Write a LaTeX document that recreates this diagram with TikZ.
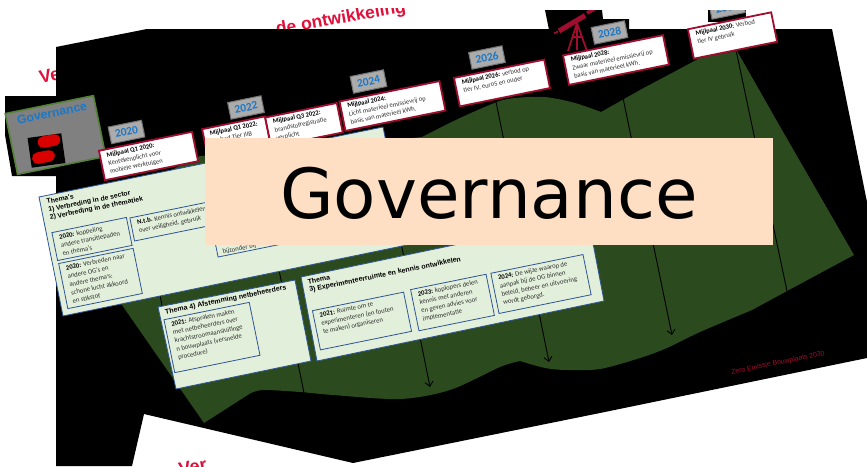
\documentclass[tikz,border=0pt]{standalone}
\usepackage{fontspec}
\setmainfont{Carlito}
\newfontfamily\arialf{Liberation Sans}
\newfontfamily\dejavuf{DejaVu Sans}
\usetikzlibrary{arrows.meta}
\pgfdeclarelayer{bg}
\pgfdeclarelayer{lines}
\pgfsetlayers{bg,lines,main}
\definecolor{leaf}{HTML}{2B4A1E}
\definecolor{panel}{HTML}{E2EFDA}
\definecolor{edgeblue}{HTML}{2F5597}
\definecolor{mred}{HTML}{A00D2E}
\definecolor{hotred}{HTML}{E0103A}
\definecolor{yearblue}{HTML}{1B78C8}
\definecolor{peach}{HTML}{FFDFC4}
\definecolor{bodyt}{HTML}{303030}
\definecolor{tileedge}{HTML}{548235}
\tikzset{
  ang/.style={rotate=11.5},
  milestone/.style={ang,draw=mred,line width=1.8pt,fill=white,inner sep=0pt},
  mtext/.style={ang,anchor=north west,inner xsep=7.5pt,inner ysep=4pt,align=left,text=bodyt,font=\fontsize{6.6}{8.3}\selectfont},
  yearbox/.style={ang,draw=black!55,line width=1pt,fill=black!33,minimum width=34pt,minimum height=17pt,inner sep=0pt,text=yearblue,font=\fontsize{11.5}{12}\selectfont\bfseries},
  thema/.style={draw=edgeblue,line width=.8pt,fill=panel},
  bluebx/.style={ang,draw=edgeblue,line width=.8pt,fill=panel,inner sep=0pt},
  btext/.style={ang,anchor=north west,inner xsep=6.5pt,inner ysep=3.5pt,align=left,text=bodyt,font=\fontsize{6.7}{8.5}\selectfont},
  ttitle/.style={ang,anchor=north west,inner sep=0pt,align=left,font=\arialf\bfseries\fontsize{6.8}{8}\selectfont},
  red title/.style={ang,anchor=base west,inner sep=0pt,text=hotred,font=\arialf\bfseries\fontsize{18}{20}\selectfont},
  conn/.style={draw=black,line width=.9pt},
  connarrow/.style={conn,-{Straight Barb[length=4.5pt,width=8pt]}},
  pill/.style={rotate=11,fill=red!85!black,rounded corners=5.5pt,minimum width=23pt,minimum height=11.5pt,inner sep=0pt},
}
\newcommand\milebox[6]{%
  \node[milestone,minimum width=#3pt,minimum height=#4pt] (#1) at (#2) {};
  \node[mtext] (#1t) at (#1.north west) {#5};}
\newcommand\innerbox[5]{%
  \node[bluebx,minimum width=#3pt,minimum height=#4pt] (#1) at (#2) {};
  \node[btext] (#1t) at (#1.north west) {#5};}
\newcommand\bm[1]{{\bfseries\color{black}#1}}
\begin{document}
\begin{tikzpicture}[x=1pt,y=-1pt]
\useasboundingbox (0,0) rectangle (867,466);
\begin{pgfonlayer}{bg}
\fill[white] (0,0) rectangle (867,466);
% red headings that disappear behind the black
\begin{scope}
  \clip (0,8) rectangle (867,466);
  \node[red title,rotate=-1.5,font=\arialf\bfseries\fontsize{17.5}{20}\selectfont] (head1) at (277,35) {de ontwikkeling};
\end{scope}
\node[red title] (head2) at (40.5,84) {Ver};
\node[red title] (head3) at (180,476) {Ver};
% black areas
\fill[black] (56,47) -- (147,29) -- (832,29) -- (867,202) -- (867,358) -- (600,413) -- (353,463) -- (144,414) -- (132,466) -- (56,466) -- cycle;
\fill[black] (5,96) -- (56,96) -- (56,176) -- (12,176) -- (5,135) -- cycle;
\fill[black] (545,10) -- (602,10) -- (603,19) -- (629,19) -- (629,30) -- (549,30) -- cycle;
\fill[black] (708,10) rectangle (746,22);
% telescope
\begin{scope}
  \clip (540,10) rectangle (640,60);
  \draw[mred,line width=5pt] (559,31) -- (585,15.5);
  \draw[mred,line width=3.5pt] (587,13) -- (596,8);
  \draw[mred,line width=1.6pt] (554,33.5) -- (558,31.5);
  \draw[mred,line width=1.8pt] (577,23) -- (568,51) (577,23) -- (587,51) (577,23) -- (577,50) (572,37) -- (582,37);
\end{scope}
% green area
\fill[leaf] (204,423) -- (250,393.5) -- plot[smooth] coordinates {(250,393.5) (263,390) (300,392) (333,395) (400,399) (450,390) (500,367) (520,361)}
  -- plot[smooth] coordinates {(520,361) (545,368) (567,370) (600,369) (640,358) (667,348) (700,332) (752,310)}
  -- (787,291) -- (854,255) -- (782,130) -- (737,51) -- (700,58) -- (640,90)
  -- plot[smooth] coordinates {(601,112) (575,103) (545,97) (515,98) (497,102) (460,118) (422,137)}
  -- (300,150) -- (200,156) -- (130,190) -- (85,250) -- (122,305) -- cycle;
\end{pgfonlayer}
% governance tile
\node[ang,draw=tileedge,line width=1.6pt,fill=black!50,minimum width=90pt,minimum height=62pt,inner sep=0pt] (gov) at (55.5,135) {};
\node[ang,inner sep=0pt,text=yearblue,font=\arialf\bfseries\fontsize{12.3}{14}\selectfont] (govt) at (52,113) {Governance};
\node[rotate=8,fill=black,minimum width=34pt,minimum height=30pt,inner sep=0pt] (icon) at (46.5,150.5) {};
\node[pill] (pilla) at (49,141) {};
\node[pill] (pillb) at (43.5,157) {};
% year boxes
\node[yearbox] (y20) at (126.5,132) {2020};
\node[yearbox] (y22) at (246,107.5) {2022};
\node[yearbox] (y24) at (368.5,81.5) {2024};
\node[yearbox] (y26) at (487,57.5) {2026};
\node[yearbox] (y28) at (609.5,32.5) {2028};
\begin{scope}
  \clip (708,10) rectangle (746,22);
  \node[yearbox] (y30) at (727,7.5) {2030};
\end{scope}
% connector ends
\coordinate (e20) at (165,320);
\coordinate (e22) at (304,393);
\coordinate (e24) at (430,387);
\coordinate (e26) at (549,362);
\coordinate (e28) at (672,335);
\coordinate (e30) at (787,291);
\begin{pgfonlayer}{lines}
\draw[conn] (y20) -- (e20);
\draw[conn] (y22) -- (e22);
\draw[connarrow] (y24) -- (e24);
\draw[connarrow] (y26) -- (e26);
\draw[connarrow] (y28) -- (e28);
\draw[conn] (y30) -- (e30);
\end{pgfonlayer}
% theme panels
\path[thema] (39,197) -- (383,127) -- (407,245) -- (63,316) -- cycle;
\path[thema] (158,307) -- (295,280) -- (311,361) -- (176,389) -- cycle;
\path[thema] (301,277) -- (588,217) -- (604,301) -- (317,361) -- cycle;
\node[ttitle] (ta) at (46,199) {Thema's\\1) Verbreding in de sector\\2) Verbreding in de thematiek};
\node[ttitle,font=\arialf\bfseries\fontsize{7}{8}\selectfont] (tb) at (164.5,309) {Thema 4) Afstemming netbeheerders};
\node[ttitle,font=\arialf\bfseries\fontsize{7}{8}\selectfont] (tc) at (307,279) {Thema\\3) Experimenteerruimte en kennis ontwikkelen};
\innerbox{b1}{92,239}{76}{28.5}{\bm{2020:} koppeling\\andere transitiepaden\\en thema's}
\innerbox{b2}{100.5,278.5}{76}{46}{\bm{2020:} Verbreden naar\\andere OG's en\\andere thema's:\\schone lucht akkoord\\en stikstof}
\innerbox{b3}{191,217.5}{120}{23.5}{\bm{N.t.b.} Kennis ontwikkelen\\over veiligheid, gebruik}
\node[bluebx,minimum width=110pt,minimum height=45pt] (b4) at (267.5,224) {};
\node[ang,anchor=base west,inner sep=0pt,text=bodyt,font=\fontsize{6.7}{8.5}\selectfont] (b4t) at (223,254) {bijzonder bij};
\innerbox{b5}{212,337.5}{87}{54}{\bm{2021:} Afspraken maken\\met netbeheerders over\\krachtstroomaansluitinge\\n bouwplaats (versnelde\\procedure)}
\innerbox{b6}{362,321}{93}{40}{\bm{2021:} Ruimte om te\\experimenteren (en fouten\\te maken) organiseren}
\innerbox{b7}{452.5,302.5}{77}{42}{\bm{2023:} koplopers delen\\kennis met anderen\\en geven advies voor\\implementatie}
\innerbox{b8}{541,284}{94}{41}{\bm{2024:} De wijze waarop de\\aanpak bij de OG binnen\\beleid, beheer en uitvoering\\wordt geborgd.}
% milestones
\milebox{m20}{148.5,156}{95}{30}{\bm{Mijlpaal Q1 2020:}\\Kentekenplicht voor\\mobiele werktuigen}{}
\milebox{m22a}{236.5,137.5}{64}{30}{\bm{Mijlpaal Q1 2022:}\\Verbod Tier IIIB}{}
\milebox{m22b}{304,125}{73}{30}{\bm{Mijlpaal Q3 2022:}\\brandstofregistratie\\verplicht}{}
\milebox{m24}{392.5,106}{102}{30}{\bm{Mijlpaal 2024:}\\Licht materieel emissievrij op\\basis van materieel kWh.}{}
\milebox{m26}{502,83}{92}{29}{\bm{Mijlpaal 2026:} verbod op\\tier IV, euro5 en ouder}{}
\milebox{m28}{616,60}{102}{30}{\bm{Mijlpaal 2028:}\\Zwaar materieel emissievrij op\\basis van materieel kWh.}{}
\milebox{m30}{732.5,35.5}{85}{30}{\bm{Mijlpaal 2030:} Verbod\\tier IV gebruik}{}
\node[ang,inner sep=0pt,text=mred,font=\arialf\fontsize{6.9}{8}\selectfont] (zero) at (778,363) {Zero Emissie Bouwplaats 2030};
% title band
\node[fill=peach,minimum width=568pt,minimum height=107pt,inner sep=0pt] (band) at (489,191.5) {};
\node[anchor=base,inner sep=0pt,font=\dejavuf\fontsize{69.2}{72}\selectfont] (bandt) at (489,218) {Governance};
\end{tikzpicture}
\end{document}
